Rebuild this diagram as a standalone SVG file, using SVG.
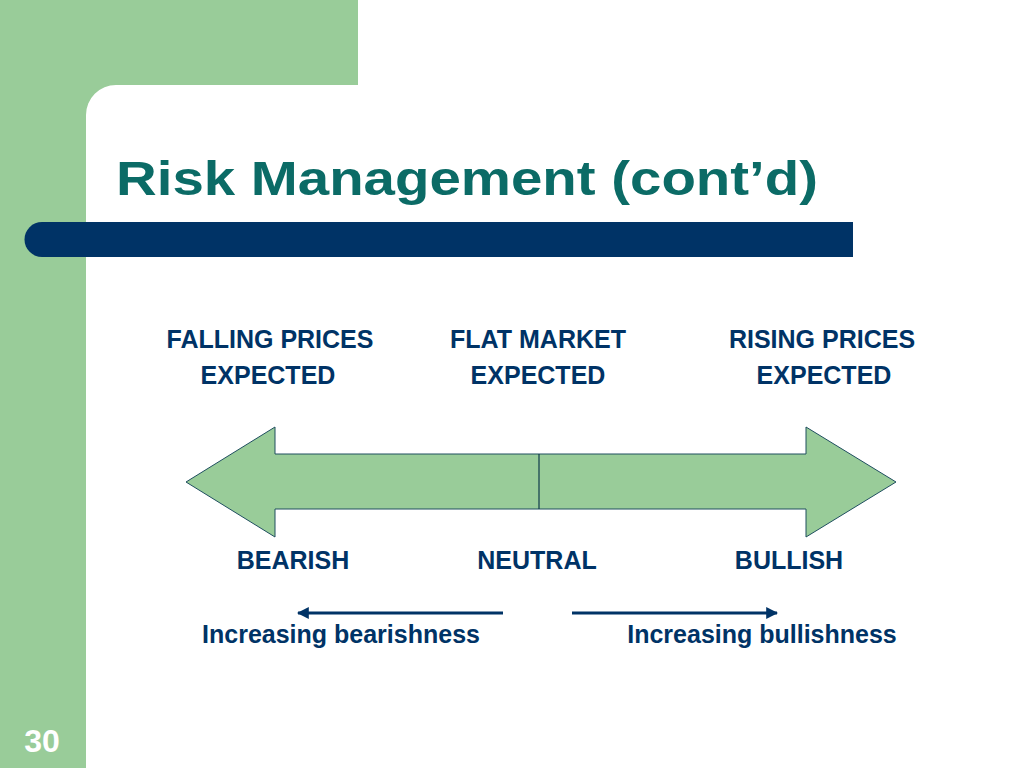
<svg xmlns="http://www.w3.org/2000/svg" width="1024" height="768" viewBox="0 0 1024 768">
<defs>
<style>
.lbl{font-family:"Liberation Sans",Arial,sans-serif;font-weight:bold;font-size:25px;fill:#003366;text-anchor:middle}
.title{font-family:"Liberation Sans",Arial,sans-serif;font-weight:bold;font-size:48px;fill:#0b6b66}
.dir{stroke:#003366;stroke-width:3;fill:none}
</style>
<marker id="ah" viewBox="0 0 10 10" refX="9" refY="5" markerWidth="4" markerHeight="4" orient="auto" markerUnits="strokeWidth">
<path d="M0,0 L10,5 L0,10 z" fill="#003366"/>
</marker>
</defs>
<rect width="1024" height="768" fill="#ffffff"/>
<g id="background">
<rect x="0" y="0" width="86" height="768" fill="#99cc99"/>
<rect x="0" y="0" width="358" height="85" fill="#99cc99"/>
<path d="M86,85 L116,85 A30,30 0 0 0 86,115 Z" fill="#99cc99"/>
<path d="M42,222 L853,222 L853,257 L42,257 A17.5,17.5 0 0 1 42,222 Z" fill="#003366"/>
<text x="42" y="752" font-family="Liberation Sans,Arial,sans-serif" font-weight="bold" font-size="32" fill="#ffffff" text-anchor="middle">30</text>
</g>
<text class="title" x="116" y="195" textLength="702" lengthAdjust="spacingAndGlyphs">Risk Management (cont’d)</text>
<g id="big-arrow">
<path d="M186,482 L275,427 L275,454 L806,454 L806,427 L896,482 L806,537 L806,509 L275,509 L275,537 Z" fill="#99cc99" stroke="#1f4e5f" stroke-width="1"/>
<line x1="539" y1="454" x2="539" y2="509" stroke="#0f3a4a" stroke-width="1.2"/>
</g>
<g id="expectations">
<text class="lbl" x="270" y="348">FALLING PRICES</text>
<text class="lbl" x="268" y="384">EXPECTED</text>
<text class="lbl" x="538" y="348">FLAT MARKET</text>
<text class="lbl" x="538" y="384">EXPECTED</text>
<text class="lbl" x="822" y="348">RISING PRICES</text>
<text class="lbl" x="824" y="384">EXPECTED</text>
</g>
<g id="sentiments">
<text class="lbl" x="293" y="569">BEARISH</text>
<text class="lbl" x="537" y="569">NEUTRAL</text>
<text class="lbl" x="789" y="569">BULLISH</text>
</g>
<g id="connectors">
<line class="dir" x1="503" y1="613" x2="298" y2="613" marker-end="url(#ah)"/>
<line class="dir" x1="572" y1="613" x2="777" y2="613" marker-end="url(#ah)"/>
</g>
<g id="directions">
<text class="lbl" x="341" y="643">Increasing bearishness</text>
<text class="lbl" x="762" y="643">Increasing bullishness</text>
</g>
</svg>
